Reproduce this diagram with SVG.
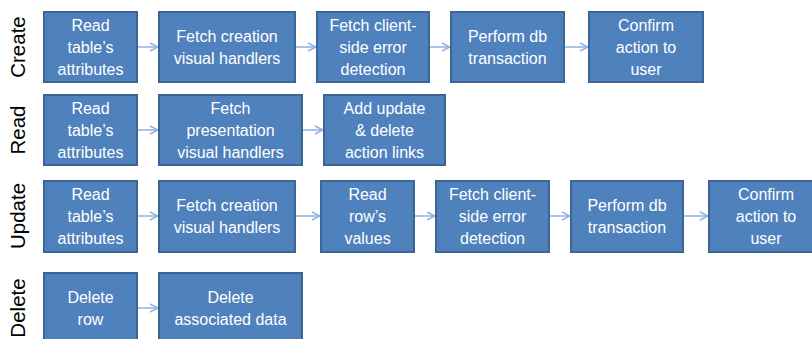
<svg xmlns="http://www.w3.org/2000/svg" width="812" height="339" viewBox="0 0 812 339">
<defs>
<style>
.box{fill:#4f81bd;stroke:#3a6594;stroke-width:2}
.t{fill:#ffffff;font-family:"Liberation Sans",Arial,sans-serif;font-size:16px;text-anchor:middle}
.lbl{fill:#000000;font-family:"Liberation Sans",Arial,sans-serif;font-size:20.5px;text-anchor:middle}
.c{stroke:#8db3e2;stroke-width:1.5;fill:none}
</style>
<marker id="ah" viewBox="0 0 10 10" refX="9" refY="5" markerWidth="10" markerHeight="10" markerUnits="userSpaceOnUse" orient="auto">
<path d="M1,1 L9,5 L1,9" fill="none" stroke="#8db3e2" stroke-width="1.5"/>
</marker>
</defs>
<rect width="812" height="339" fill="#ffffff"/>
<g id="labels">
<text class="lbl" transform="translate(25,47) rotate(-90)">Create</text>
<text class="lbl" transform="translate(25,130) rotate(-90)">Read</text>
<text class="lbl" transform="translate(25,216) rotate(-90)">Update</text>
<text class="lbl" transform="translate(25,308) rotate(-90)">Delete</text>
</g>
<g id="connectors">
<line class="c" x1="138" y1="47" x2="158" y2="47" marker-end="url(#ah)"/>
<line class="c" x1="296" y1="47" x2="316" y2="47" marker-end="url(#ah)"/>
<line class="c" x1="430" y1="47" x2="450" y2="47" marker-end="url(#ah)"/>
<line class="c" x1="565" y1="47" x2="588" y2="47" marker-end="url(#ah)"/>
<line class="c" x1="138" y1="130" x2="158" y2="130" marker-end="url(#ah)"/>
<line class="c" x1="303" y1="130" x2="323" y2="130" marker-end="url(#ah)"/>
<line class="c" x1="138" y1="216" x2="158" y2="216" marker-end="url(#ah)"/>
<line class="c" x1="296" y1="216" x2="320" y2="216" marker-end="url(#ah)"/>
<line class="c" x1="415" y1="216" x2="435" y2="216" marker-end="url(#ah)"/>
<line class="c" x1="550" y1="216" x2="570" y2="216" marker-end="url(#ah)"/>
<line class="c" x1="684" y1="216" x2="708" y2="216" marker-end="url(#ah)"/>
<line class="c" x1="138" y1="308" x2="158" y2="308" marker-end="url(#ah)"/>
</g>
<g id="c1"><rect class="box" x="44" y="12" width="93" height="70"/><text class="t"><tspan x="90.5" y="31">Read</tspan><tspan x="90.5" y="53">table’s</tspan><tspan x="90.5" y="75">attributes</tspan></text></g>
<g id="c2"><rect class="box" x="159" y="12" width="136" height="70"/><text class="t"><tspan x="227" y="42">Fetch creation</tspan><tspan x="227" y="64">visual handlers</tspan></text></g>
<g id="c3"><rect class="box" x="317" y="12" width="112" height="70"/><text class="t"><tspan x="373" y="31">Fetch client-</tspan><tspan x="373" y="53">side error</tspan><tspan x="373" y="75">detection</tspan></text></g>
<g id="c4"><rect class="box" x="451" y="12" width="113" height="70"/><text class="t"><tspan x="507.5" y="42">Perform db</tspan><tspan x="507.5" y="64">transaction</tspan></text></g>
<g id="c5"><rect class="box" x="589" y="12" width="114" height="70"/><text class="t"><tspan x="646" y="31">Confirm</tspan><tspan x="646" y="53">action to</tspan><tspan x="646" y="75">user</tspan></text></g>
<g id="r1"><rect class="box" x="44" y="95" width="93" height="70"/><text class="t"><tspan x="90.5" y="114">Read</tspan><tspan x="90.5" y="136">table’s</tspan><tspan x="90.5" y="158">attributes</tspan></text></g>
<g id="r2"><rect class="box" x="159" y="95" width="143" height="70"/><text class="t"><tspan x="230.5" y="114">Fetch</tspan><tspan x="230.5" y="136">presentation</tspan><tspan x="230.5" y="158">visual handlers</tspan></text></g>
<g id="r3"><rect class="box" x="324" y="95" width="121" height="70"/><text class="t"><tspan x="384.5" y="114">Add update</tspan><tspan x="384.5" y="136">&amp; delete</tspan><tspan x="384.5" y="158">action links</tspan></text></g>
<g id="u1"><rect class="box" x="44" y="181" width="93" height="71"/><text class="t"><tspan x="90.5" y="200">Read</tspan><tspan x="90.5" y="222">table’s</tspan><tspan x="90.5" y="244">attributes</tspan></text></g>
<g id="u2"><rect class="box" x="159" y="181" width="136" height="71"/><text class="t"><tspan x="227" y="211">Fetch creation</tspan><tspan x="227" y="233">visual handlers</tspan></text></g>
<g id="u3"><rect class="box" x="321" y="181" width="93" height="71"/><text class="t"><tspan x="367.5" y="200">Read</tspan><tspan x="367.5" y="222">row’s</tspan><tspan x="367.5" y="244">values</tspan></text></g>
<g id="u4"><rect class="box" x="436" y="181" width="113" height="71"/><text class="t"><tspan x="492.5" y="200">Fetch client-</tspan><tspan x="492.5" y="222">side error</tspan><tspan x="492.5" y="244">detection</tspan></text></g>
<g id="u5"><rect class="box" x="571" y="181" width="112" height="71"/><text class="t"><tspan x="627" y="211">Perform db</tspan><tspan x="627" y="233">transaction</tspan></text></g>
<g id="u6"><rect class="box" x="709" y="181" width="114" height="71"/><text class="t"><tspan x="766" y="200">Confirm</tspan><tspan x="766" y="222">action to</tspan><tspan x="766" y="244">user</tspan></text></g>
<g id="d1"><rect class="box" x="44" y="273" width="93" height="70"/><text class="t"><tspan x="90.5" y="303">Delete</tspan><tspan x="90.5" y="325">row</tspan></text></g>
<g id="d2"><rect class="box" x="159" y="273" width="143" height="70"/><text class="t"><tspan x="230.5" y="303">Delete</tspan><tspan x="230.5" y="325">associated data</tspan></text></g>
</svg>
